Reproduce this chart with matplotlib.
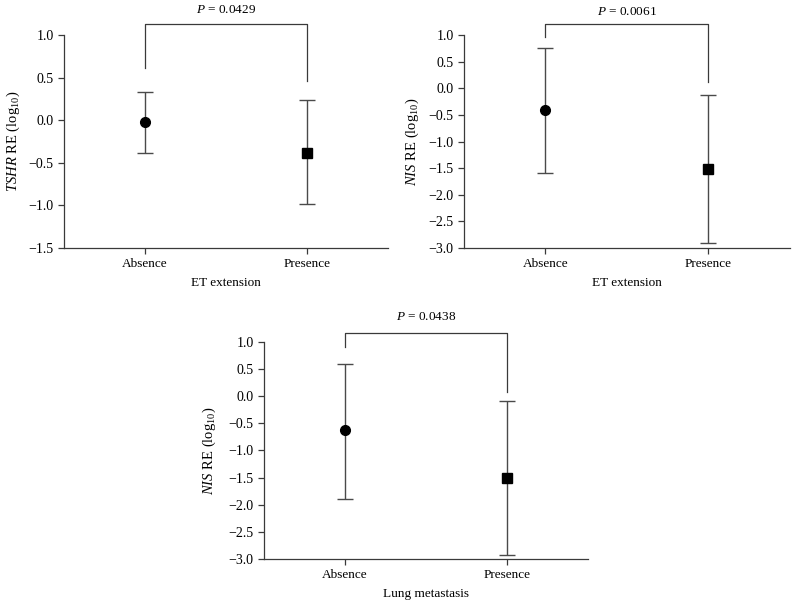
import numpy as np
import matplotlib
matplotlib.use("Agg")
import matplotlib.pyplot as plt

plt.rcParams['font.family'] = ['Liberation Serif', 'DejaVu Serif']
plt.rcParams['mathtext.fontset'] = 'custom'
plt.rcParams['mathtext.rm'] = 'Liberation Serif'
plt.rcParams['mathtext.it'] = 'Liberation Serif:italic'

groups = ['Absence', 'Presence']

# panel 1: TSHR vs ET extension
tshr_mean = [-0.02, -0.38]
tshr_low = [-0.39, -0.98]
tshr_high = [0.33, 0.24]

# panel 2: NIS vs ET extension
nis_et_mean = [-0.40, -1.51]
nis_et_low = [-1.60, -2.90]
nis_et_high = [0.76, -0.12]

# panel 3: NIS vs lung metastasis
nis_lung_mean = [-0.63, -1.50]
nis_lung_low = [-1.90, -2.92]
nis_lung_high = [0.60, -0.08]

p_values = ['0.0429', '0.0061', '0.0438']

line_col = '#3a3a3a'
bar_col = '#4a4a4a'


def draw_panel(ax, mean, low, high, ylim, yticks, ylabel, xlabel, pval, bracket, label_x):
    x = np.arange(len(groups))
    mean = np.array(mean)
    err = [mean - np.array(low), np.array(high) - mean]
    ax.errorbar(x, mean, yerr=err, fmt='none', ecolor=bar_col, elinewidth=1.0,
                capsize=6, capthick=1.0, zorder=2)
    ax.plot(x[0], mean[0], 'o', color='black', markersize=7, zorder=3)
    ax.plot(x[1], mean[1], 's', color='black', markersize=7, zorder=3)

    ax.set_xlim(-0.5, 1.5)
    ax.set_ylim(*ylim)
    ax.set_yticks(yticks)
    ax.set_yticklabels([f'{t:.1f}'.replace('-', '\u2212') for t in yticks])
    ax.set_xticks(x)
    ax.set_xticklabels(groups)
    ax.set_ylabel(ylabel, fontsize=10.5)
    ax.yaxis.set_label_coords(label_x, 0.5)
    ax.set_xlabel(xlabel, fontsize=9.5, labelpad=5)
    ax.tick_params(labelsize=9.5, length=4, width=0.9, color=line_col, direction='out')
    ax.tick_params(axis='y', labelsize=10)

    for s in ['top', 'right']:
        ax.spines[s].set_visible(False)
    for s in ['left', 'bottom']:
        ax.spines[s].set_color(line_col)
        ax.spines[s].set_linewidth(0.9)

    top, left_end, right_end, text_y = bracket
    ax.plot([0, 0, 1, 1], [left_end, top, top, right_end], color=line_col,
            linewidth=0.9, clip_on=False)
    ax.text(0.5, text_y, '$P$ = ' + pval, ha='center', va='center',
            fontsize=9.5, clip_on=False)


fig = plt.figure(figsize=(7.99, 6.11), dpi=100)

ax1 = fig.add_axes([0.0801, 0.5941, 0.4055, 0.3486])
draw_panel(ax1, tshr_mean, tshr_low, tshr_high, (-1.5, 1.0),
           [-1.5, -1.0, -0.5, 0.0, 0.5, 1.0],
           r'$\mathit{TSHR}$ RE (log$_{10}$)', 'ET extension', p_values[0],
           (1.13, 0.61, 0.46, 1.29), -0.13)

ax2 = fig.add_axes([0.5807, 0.5941, 0.408, 0.3486])
draw_panel(ax2, nis_et_mean, nis_et_low, nis_et_high, (-3.0, 1.0),
           [-3.0, -2.5, -2.0, -1.5, -1.0, -0.5, 0.0, 0.5, 1.0],
           r'$\mathit{NIS}$ RE (log$_{10}$)', 'ET extension', p_values[1],
           (1.21, 0.97, 0.12, 1.43), -0.132)

ax3 = fig.add_axes([0.3304, 0.0851, 0.4055, 0.3552])
draw_panel(ax3, nis_lung_mean, nis_lung_low, nis_lung_high, (-3.0, 1.0),
           [-3.0, -2.5, -2.0, -1.5, -1.0, -0.5, 0.0, 0.5, 1.0],
           r'$\mathit{NIS}$ RE (log$_{10}$)', 'Lung metastasis', p_values[2],
           (1.17, 0.91, 0.08, 1.46), -0.142)

fig.savefig('out.png', dpi=100)
